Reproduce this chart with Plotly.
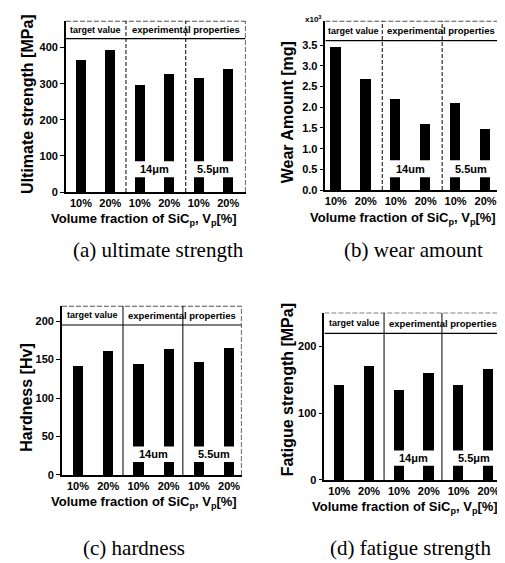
import plotly.graph_objects as go

# ---- data ----
cats = ["10%", "20%", "10%", "20%", "10%", "20%"]
ultimate = [367, 395, 298, 326, 315, 340]
wear = [3.47, 2.70, 2.21, 1.61, 2.11, 1.48]
hardness = [142, 162, 144, 164, 147, 166]
fatigue = [142, 171, 135, 161, 142, 166]
ticks_a = [0, 100, 200, 300, 400]
ticks_b = [0.0, 0.5, 1.0, 1.5, 2.0, 2.5, 3.0, 3.5]
ticks_c = [0, 50, 100, 150, 200]
ticks_d = [0, 100, 200]
groups = ["target value", "experimental properties"]
sizes_a = ["14\u03bcm", "5.5\u03bcm"]
sizes_b = ["14um", "5.5um"]

SANS = "Liberation Sans, Arial, sans-serif"
SERIF = "Liberation Serif, Times New Roman, serif"
W, H = 505, 563

panels = [
    dict(vals=ultimate, ticks=ticks_a, xpx=(57, 237), ypx=(13, 186), yr=474, head=425,
         xr=(-0.51, 5.59), divs=(1.53, 3.56), gap=(41, 85),
         tickfmt=None, divdash="dash", sizes=sizes_a,
         ytitle="Ultimate strength [MPa]", ytx=19, yty=97,
         xty=214, xtx=135, cap="(a) ultimate strength", capx=150, capy=245),
    dict(vals=wear, ticks=ticks_b, xpx=(317, 491), ypx=(13, 184), yr=4.09, head=3.61,
         xr=(-0.35, 5.45), divs=(1.55, 3.55), gap=(0.31, 0.72),
         tickfmt=".1f", divdash="dash", sizes=sizes_b,
         ytitle="Wear Amount [mg]", ytx=279, yty=105,
         xty=213, xtx=395, cap="(b) wear amount", capx=405, capy=245),
    dict(vals=hardness, ticks=ticks_c, xpx=(53, 233), ypx=(301, 472), yr=220, head=195,
         xr=(-0.53, 5.41), divs=(1.49, 3.47), gap=(17, 37),
         tickfmt=None, divdash="solid", sizes=sizes_b,
         ytitle="Hardness [Hv]", ytx=18, yty=394,
         xty=500, xtx=135, cap="(c) hardness", capx=125, capy=546),
    dict(vals=fatigue, ticks=ticks_d, xpx=(316, 493), ypx=(308, 477), yr=250, head=219,
         xr=(-0.5, 5.42), divs=(1.5, 3.44), gap=(21, 44),
         tickfmt=None, divdash="solid", sizes=sizes_a,
         ytitle="Fatigue strength [MPa]", ytx=279, yty=386,
         xty=505, xtx=397, cap="(d) fatigue strength", capx=402, capy=546),
]

fig = go.Figure()
shapes = []
annotations = []

xvals = list(range(len(cats)))

for i, p in enumerate(panels, start=1):
    xa = "x" if i == 1 else f"x{i}"
    ya = "y" if i == 1 else f"y{i}"
    xkey = "xaxis" if i == 1 else f"xaxis{i}"
    ykey = "yaxis" if i == 1 else f"yaxis{i}"

    fig.add_trace(go.Bar(x=xvals, y=p["vals"], width=0.34,
                         marker=dict(color="black", line=dict(width=0)),
                         xaxis=xa, yaxis=ya, showlegend=False))

    x0, x1 = p["xpx"]
    yt, yb = p["ypx"]
    fig.update_layout({
        xkey: dict(domain=[x0 / W, x1 / W], range=list(p["xr"]),
                   tickvals=xvals, ticktext=cats, showline=True,
                   linecolor="black", linewidth=1.5, ticks="",
                   showgrid=False, zeroline=False, anchor=ya,
                   tickfont=dict(family=SANS, size=11, color="black", weight="bold")),
        ykey: dict(domain=[1 - yb / H, 1 - yt / H], range=[0, p["yr"]],
                   tickvals=p["ticks"], tickformat=p["tickfmt"],
                   showline=True, linecolor="black", linewidth=1.5,
                   ticks="outside", ticklen=4, tickwidth=1.2, tickcolor="black",
                   showgrid=False, zeroline=False, anchor=xa,
                   tickfont=dict(family=SANS, size=11, color="black", weight="bold")),
    })

    xlo, xhi = p["xr"]
    d1, d2 = p["divs"]
    g0, g1 = p["gap"]
    # white gap across the experimental bars, where the particle size is written
    shapes.append(dict(type="rect", xref=xa, yref=ya, x0=d1, x1=xhi, y0=g0, y1=g1,
                       fillcolor="white", line=dict(width=0), layer="above"))
    # group dividers
    for d in (d1, d2):
        shapes.append(dict(type="line", xref=xa, yref=ya, x0=d, x1=d, y0=0, y1=p["yr"],
                           line=dict(color="black", width=1,
                                     dash="4px,2px" if p["divdash"] == "dash" else "solid"),
                           layer="above"))
    # header line, top and right border
    shapes.append(dict(type="line", xref=xa, yref=ya, x0=xlo, x1=xhi,
                       y0=p["head"], y1=p["head"],
                       line=dict(color="black", width=1.2), layer="above"))
    shapes.append(dict(type="line", xref=xa, yref=ya, x0=xlo, x1=xhi,
                       y0=p["yr"], y1=p["yr"],
                       line=dict(color="black", width=1.2, dash="5px,2px"), layer="above"))
    shapes.append(dict(type="line", xref=xa, yref=ya, x0=xhi, x1=xhi,
                       y0=0, y1=p["yr"],
                       line=dict(color="black", width=1.2, dash="5px,2px"), layer="above"))

    hy = (p["head"] + p["yr"]) / 2
    annotations.append(dict(xref=xa, yref=ya, x=(xlo + d1) / 2, y=hy, text=groups[0],
                            showarrow=False,
                            font=dict(family=SANS, size=9, color="black", weight="bold")))
    annotations.append(dict(xref=xa, yref=ya, x=(d1 + xhi) / 2, y=hy, text=groups[1],
                            showarrow=False,
                            font=dict(family=SANS, size=9.5, color="black", weight="bold")))
    gy = (g0 + g1) / 2
    for xc, s in zip((2.5, 4.5), p["sizes"]):
        annotations.append(dict(xref=xa, yref=ya, x=xc, y=gy, text=s, showarrow=False,
                                font=dict(family=SANS, size=11, color="black", weight="bold")))

    annotations.append(dict(xref="paper", yref="paper", x=p["ytx"] / W, y=1 - p["yty"] / H,
                            text=p["ytitle"], textangle=-90, showarrow=False,
                            xanchor="center", yanchor="middle",
                            font=dict(family=SANS, size=16, color="black", weight="bold")))
    annotations.append(dict(xref="paper", yref="paper", x=p["xtx"] / W, y=1 - p["xty"] / H,
                            text="Volume fraction of SiC<sub>p</sub>, V<sub>p</sub>[%]",
                            showarrow=False, xanchor="center", yanchor="middle",
                            font=dict(family=SANS, size=13, color="black", weight="bold")))
    annotations.append(dict(xref="paper", yref="paper", x=p["capx"] / W, y=1 - p["capy"] / H,
                            text=p["cap"], showarrow=False, xanchor="center", yanchor="middle",
                            font=dict(family=SERIF, size=21, color="black")))

annotations.append(dict(xref="paper", yref="paper", x=305 / W, y=1 - 11 / H,
                        text="x10<sup>3</sup>", showarrow=False,
                        xanchor="center", yanchor="middle",
                        font=dict(family=SANS, size=8, color="black", weight="bold")))

fig.update_layout(width=W, height=H, margin=dict(l=0, r=0, t=0, b=0),
                  paper_bgcolor="white", plot_bgcolor="white",
                  shapes=shapes, annotations=annotations, bargap=0)

fig.write_html("out.html")
